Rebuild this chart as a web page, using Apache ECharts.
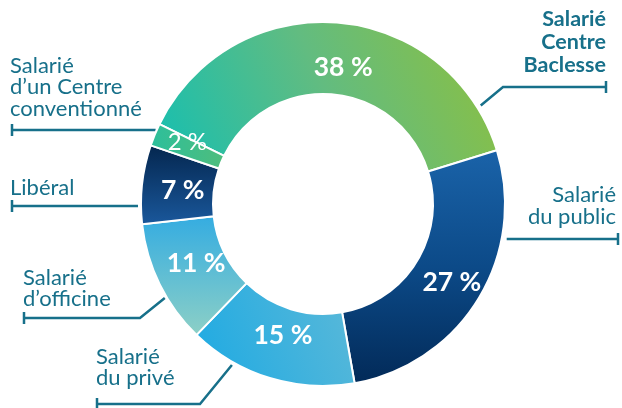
<!DOCTYPE html>
<html><head><meta charset="utf-8">
<script src="https://cdn.jsdelivr.net/npm/echarts@6/dist/echarts.min.js"></script>
<style>html,body{margin:0;padding:0;background:#fff}#c{width:622px;height:408px}</style>
</head><body><div id="c"></div>
<script>
// ---- data ----
const categories = ['Salarié Centre Baclesse', 'Salarié du public', 'Salarié du privé', 'Salarié d’officine', 'Libéral', 'Salarié d’un Centre conventionné'];
const labelTexts = [['Salarié', 'Centre', 'Baclesse'], ['Salarié', 'du public'], ['Salarié', 'du privé'], ['Salarié', 'd’officine'], ['Libéral'], ['Salarié', 'd’un Centre', 'conventionné']];
const values = [38, 27, 15, 11, 7, 2];
const percentLabels = ['38 %', '27 %', '15 %', '11 %', '7 %', '2 %'];

// ---- style / layout ----
const CENTER = [323, 204], R_IN = 110, R_OUT = 182;
const TEXT_COLOR = '#17708a';
const grad = (x, y, x2, y2, stops) => ({ type: 'linear', x, y, x2, y2, colorStops: stops.map((c, i) => ({ offset: i / (stops.length - 1), color: c })) });
const sliceColors = [
  grad(0, 1, 1, 0, ['#14bfb2', '#62bc80', '#8fc03c']),
  grad(0, 0, 0, 1, ['#1a63a9', '#0c4a88', '#022a58']),
  grad(0, 0.6, 1, 0, ['#22abe2', '#5cb9d8']),
  grad(0, 0, 0, 1, ['#34ace1', '#8dd0c6']),
  grad(0, 0, 0, 1, ['#04264e', '#1a589c']),
  grad(0, 0, 1, 0, ['#2cbf9c', '#4fbd7c'])
];
// inside percentage labels: radius and angular shift from slice middle
const pctRadius = [138, 151, 137, 140, 141, 149];
const pctAngleShift = [-4, 0, 0, -1.2, 0.5, -2];
// callouts: anchor = angle on the ring (deg), gap beyond ring, elbow point, end x, text anchor
const callouts = [
  { angle: 32, gap: 4, elbow: [503, 87], endX: 606, text: [606, 8], align: 'right', lh: 23, bold: true },
  { flatY: 239, gap: 5, side: 1, endX: 618, text: [616, 184], align: 'right', lh: 22 },
  { angle: -119.5, gap: 3, elbow: [200, 404], endX: 97, text: [96, 346], align: 'left', lh: 21 },
  { angle: -149.3, gap: 2, elbow: [140, 318], endX: 24, text: [23, 267], align: 'left', lh: 21 },
  { flatY: 206, gap: 3, side: -1, endX: 12, text: [10, 177], align: 'left', lh: 21 },
  { flatY: 130, gap: 1, side: -1, endX: 12, text: [10, 55], align: 'left', lh: 21.5 }
];
const TICK = 6;

function linePoints(c) {
  let start, y;
  if (c.flatY !== undefined) {
    const r = R_OUT + c.gap, dy = c.flatY - CENTER[1];
    start = [CENTER[0] + c.side * Math.sqrt(r * r - dy * dy), c.flatY];
    y = c.flatY;
    return [start, [c.endX, y], [c.endX, y - TICK], [c.endX, y + TICK]];
  }
  const r = R_OUT + c.gap, a = c.angle * Math.PI / 180;
  start = [CENTER[0] + r * Math.cos(a), CENTER[1] - r * Math.sin(a)];
  y = c.elbow[1];
  return [start, c.elbow, [c.endX, y], [c.endX, y - TICK], [c.endX, y + TICK]];
}

const total = values.reduce((a, b) => a + b, 0);
const START = 154;
function midAngle(i) {
  let acc = 0;
  for (let k = 0; k < i; k++) acc += values[k];
  return START - (acc + values[i] / 2) / total * 360;
}

const chart = echarts.init(document.getElementById('c'), null, { renderer: 'canvas' });
const FONT = 'Lato, "Open Sans", sans-serif';
chart.setOption({
  animation: false,
  series: [
    {
      type: 'pie', center: CENTER, radius: [R_IN, R_OUT], startAngle: START, clockwise: true,
      silent: true, avoidLabelOverlap: false,
      itemStyle: { borderColor: '#fff', borderWidth: 2 },
      label: { show: true, position: 'inside', color: '#fff', fontFamily: FONT, fontSize: 26.5, fontWeight: 'bold',
        formatter: p => percentLabels[p.dataIndex] },
      labelLine: { show: false },
      labelLayout: p => {
        const i = p.dataIndex, a = (midAngle(i) + pctAngleShift[i]) * Math.PI / 180;
        return { x: CENTER[0] + pctRadius[i] * Math.cos(a), y: CENTER[1] - pctRadius[i] * Math.sin(a), align: 'center', verticalAlign: 'middle' };
      },
      data: values.map((v, i) => ({ value: v, name: categories[i], itemStyle: { color: sliceColors[i] },
        label: i === 5 ? { fontWeight: 'normal', fontSize: 24 } : {} }))
    },
    {
      type: 'pie', center: CENTER, radius: [R_IN, R_OUT], startAngle: START, clockwise: true,
      silent: true, avoidLabelOverlap: false, z: 1,
      itemStyle: { color: 'rgba(0,0,0,0)', borderWidth: 0 },
      label: { show: true, position: 'outside', color: TEXT_COLOR, fontFamily: FONT, fontSize: 22,
        formatter: p => labelTexts[p.dataIndex].join('\n') },
      labelLine: { show: true, length: 10, length2: 10, lineStyle: { color: TEXT_COLOR, width: 2.5 } },
      labelLayout: p => {
        const c = callouts[p.dataIndex];
        return { x: c.text[0], y: c.text[1], align: c.align, verticalAlign: 'top', labelLinePoints: linePoints(c) };
      },
      data: values.map((v, i) => ({ value: v, name: categories[i],
        label: { lineHeight: callouts[i].lh, fontWeight: callouts[i].bold ? 'bold' : 'normal', fontSize: callouts[i].bold ? 21.5 : 22, align: callouts[i].align } }))
    }
  ]
});
</script>
</body></html>
